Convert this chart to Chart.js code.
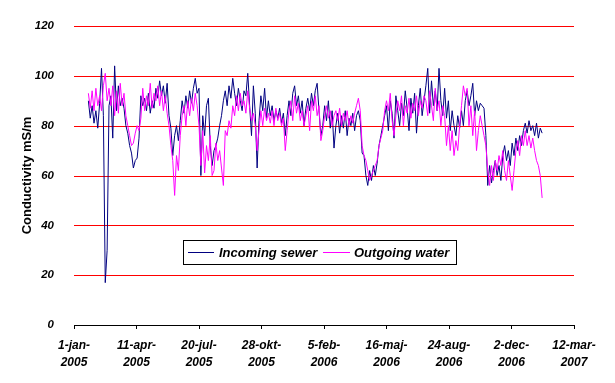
<!DOCTYPE html>
<html>
<head>
<meta charset="utf-8">
<script src="https://cdn.jsdelivr.net/npm/chart.js@4.4.1/dist/chart.umd.min.js"></script>
<style>
html,body{margin:0;padding:0;background:#fff;}
canvas{display:block;}
</style>
</head>
<body>
<canvas id="c" width="615" height="383"></canvas>
<script>
// ---- data ----
const seriesNames = ["Incoming sewer", "Outgoing water"];
const tickLabels = [
  ["1-jan-","2005"], ["11-apr-","2005"], ["20-jul-","2005"], ["28-okt-","2005"],
  ["5-feb-","2006"], ["16-maj-","2006"], ["24-aug-","2006"], ["2-dec-","2006"], ["12-mar-","2007"]
];
const firstDay = 23;   // sample day counted from 1-jan-2005
const dayStep = 3;     // days between samples
const incoming = [
  90,83,88,81,86,79,89,103,84,17,
  30,88,92,75,104,86,96,88,91,87,
  80,77,72,69,63,66,67,75,92,88,
  91,86,93,85,90,87,95,91,98,92,
  96,89,97,84,79,68,76,80,74,82,
  90,85,92,87,94,89,95,99,93,95,
  60,84,76,88,91,72,64,70,72,75,
  80,84,90,94,88,96,91,99,93,88,
  95,90,86,94,92,101,88,76,96,85,
  63,82,92,86,95,83,90,84,88,82,
  86,83,87,81,85,76,84,90,84,93,
  96,88,92,85,90,80,87,91,86,93,
  88,94,97,86,76,80,88,82,90,79,
  86,71,80,85,77,84,79,86,76,83,
  80,85,78,84,86,82,69,68,60,56,
  62,58,64,60,65,72,76,80,84,88,
  78,90,85,75,92,86,80,89,84,94,
  87,78,91,85,93,77,88,95,84,90,
  96,103,85,98,88,94,86,103,90,84,
  95,83,90,78,86,80,76,84,79,86,
  80,90,94,88,92,97,84,90,86,89,
  88,87,76,56,64,57,62,66,60,64,
  58,68,72,66,70,64,73,68,75,70,
  76,72,78,81,77,82,78,80,76,81,
  75,79,77
];
const outgoing = [
  93,87,94,86,95,88,92,86,96,101,
  90,95,88,96,84,94,85,97,88,93,
  84,80,76,72,73,77,80,78,83,95,
  86,92,88,97,87,93,90,96,88,94,
  86,92,85,80,72,66,52,68,62,76,
  84,88,80,90,84,91,86,93,88,80,
  64,78,61,72,66,76,60,62,73,66,
  70,63,56,78,76,82,79,88,84,92,
  86,93,88,90,85,94,87,82,85,80,
  70,78,86,80,87,82,85,81,86,80,
  87,82,85,80,83,70,78,86,90,82,
  92,85,89,82,86,80,84,88,78,90,
  86,92,84,88,74,78,84,88,83,86,
  80,84,86,82,87,80,85,82,86,80,
  84,81,85,88,91,86,72,68,66,62,
  58,60,62,64,66,72,75,78,86,90,
  86,93,82,76,84,90,86,92,80,88,
  85,91,83,89,86,92,84,90,87,92,
  90,84,94,88,82,95,86,90,80,88,
  84,72,80,70,78,68,74,70,80,88,
  96,92,95,80,88,76,86,70,78,84,
  80,76,72,62,56,64,58,66,62,68,
  64,70,62,58,66,60,54,62,70,74,
  68,76,72,78,72,76,71,75,70,66,
  64,60,51
];
const colors = ["#000080", "#FF00FF"];
const gridColor = "#FF0000";

function toPoints(arr){ return arr.map((v,i)=>({x:firstDay+i*dayStep, y:v})); }

// red horizontal grid lines at each y tick (except 0, where the black axis is)
const redGrid = {
  id:'redGrid',
  beforeDatasetsDraw(chart){
    const ctx = chart.ctx, y = chart.scales.y, a = chart.chartArea;
    ctx.save();
    ctx.strokeStyle = gridColor; ctx.lineWidth = 1;
    y.ticks.forEach(t=>{
      if (t.value === 0) return;
      const py = Math.round(y.getPixelForValue(t.value)) + 0.5;
      ctx.beginPath(); ctx.moveTo(a.left, py); ctx.lineTo(a.right, py); ctx.stroke();
    });
    ctx.restore();
  }
};

const boxLegend = {
  id:'boxLegend',
  afterDraw(chart){
    const ctx = chart.ctx;
    ctx.save();
    const bx=183.5, by=240.5, bw=273, bh=24;
    ctx.fillStyle='#fff'; ctx.fillRect(bx,by,bw,bh);
    ctx.strokeStyle='#000'; ctx.lineWidth=1; ctx.strokeRect(bx,by,bw,bh);
    ctx.font='italic bold 13px "Liberation Sans", Arial, sans-serif';
    ctx.textBaseline='middle'; ctx.textAlign='left';
    const items=[{x0:188,x1:214,tx:219},{x0:323,x1:350,tx:354}];
    chart.data.datasets.forEach((ds,i)=>{
      const it=items[i];
      ctx.strokeStyle=ds.borderColor; ctx.beginPath();
      ctx.moveTo(it.x0,252.5); ctx.lineTo(it.x1,252.5); ctx.stroke();
      ctx.fillStyle='#000'; ctx.fillText(ds.label,it.tx,253);
    });
    ctx.restore();
  }
};

new Chart(document.getElementById('c'), {
  type:'line',
  data:{
    datasets:[
      {label:seriesNames[0], data:toPoints(incoming), borderColor:colors[0], borderWidth:1, pointRadius:0, tension:0, fill:false, order:1},
      {label:seriesNames[1], data:toPoints(outgoing), borderColor:colors[1], borderWidth:1, pointRadius:0, tension:0, fill:false, order:0}
    ]
  },
  options:{
    responsive:false, animation:false, devicePixelRatio:1,
    layout:{padding:{top:26,right:41,left:0,bottom:0}},
    plugins:{legend:{display:false}, tooltip:{enabled:false}},
    scales:{
      x:{
        type:'linear', min:0, max:800,
        afterFit(s){ s.height=58; },
        border:{display:true,color:'#000000',width:1, z:1},
        grid:{display:true, drawOnChartArea:false, drawTicks:true, tickLength:4, color:'#000000'},
        ticks:{stepSize:100, autoSkip:false, maxRotation:0, padding:8, color:'#000',
          font:{family:'"Liberation Sans", Arial, sans-serif', size:12, style:'italic', weight:'bold', lineHeight:1.4},
          callback:(v)=>tickLabels[Math.round(v/100)]}
      },
      y:{
        min:0, max:120,
        afterFit(s){ s.width=74; },
        border:{display:false},
        grid:{display:false},
        ticks:{stepSize:20, padding:12, color:'#000',
          font:{family:'"Liberation Sans", Arial, sans-serif', size:11.5, style:'italic', weight:'bold'}},
        title:{display:true, text:'Conductivity mS/m', color:'#000', padding:{top:20,bottom:0},
          font:{family:'"Liberation Sans", Arial, sans-serif', size:13, weight:'bold'}}
      }
    }
  },
  plugins:[redGrid, boxLegend]
});
</script>
</body>
</html>
